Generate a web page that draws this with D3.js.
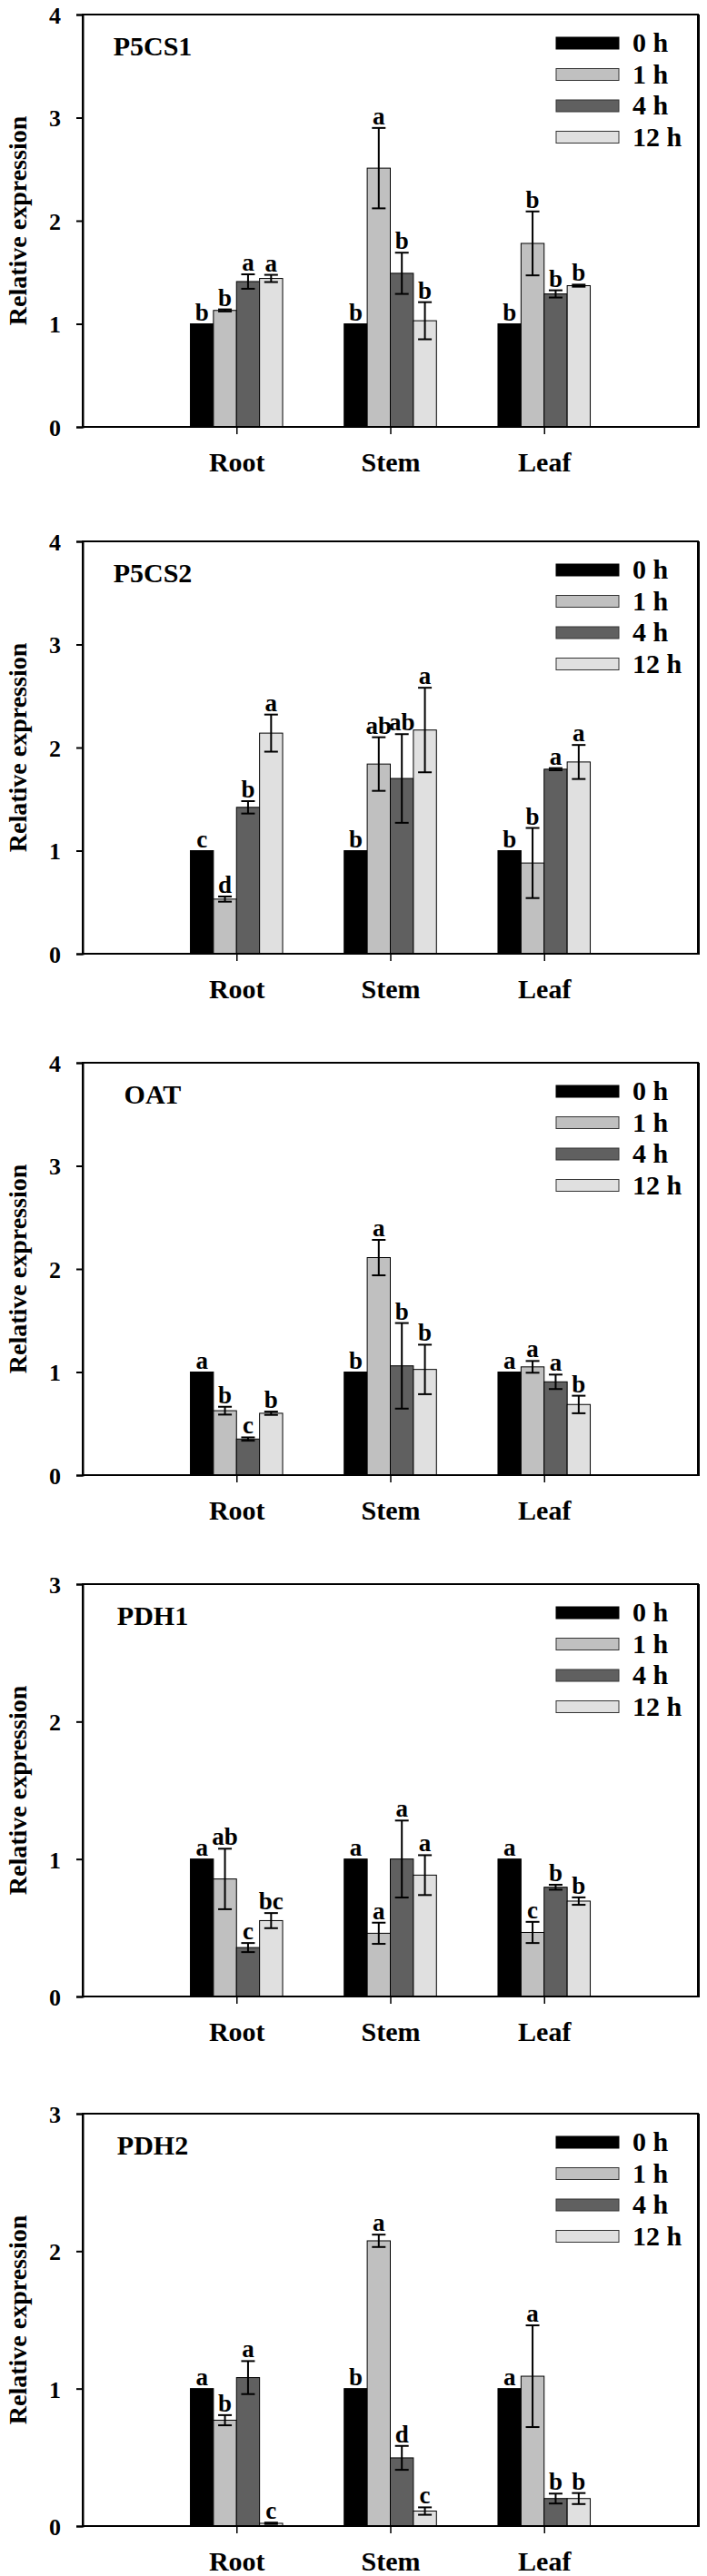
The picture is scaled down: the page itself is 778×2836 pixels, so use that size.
<!DOCTYPE html>
<html>
<head>
<meta charset="utf-8">
<script src="https://cdn.jsdelivr.net/npm/d3@7"></script>
<style>
  html, body { margin: 0; padding: 0; background: #fff; }
  svg { display: block; }
  text { font-family: "Liberation Serif", "Times New Roman", serif; font-weight: bold; fill: #000; }
</style>
</head>
<body>
<svg id="chart" width="778" height="2836"></svg>
<script>
// ---------- DATA ----------
const categories = ["Root", "Stem", "Leaf"];
const series = ["0 h", "1 h", "4 h", "12 h"];
const genes = ["P5CS1", "P5CS2", "OAT", "PDH1", "PDH2"];
const yMaxes = [4, 4, 4, 3, 3];

// means [category][series]
const p5cs1Mean = [[1, 1.13, 1.41, 1.44], [1, 2.51, 1.49, 1.03], [1, 1.78, 1.29, 1.37]];
const p5cs1Err  = [[0, 0.01, 0.07, 0.035], [0, 0.39, 0.20, 0.18], [0, 0.31, 0.035, 0.01]];
const p5cs1Sig  = [["b", "b", "a", "a"], ["b", "a", "b", "b"], ["b", "b", "b", "b"]];

const p5cs2Mean = [[1, 0.53, 1.42, 2.14], [1, 1.84, 1.70, 2.17], [1, 0.88, 1.79, 1.86]];
const p5cs2Err  = [[0, 0.025, 0.06, 0.18], [0, 0.26, 0.43, 0.41], [0, 0.34, 0.01, 0.165]];
const p5cs2Sig  = [["c", "d", "b", "a"], ["b", "ab", "ab", "a"], ["b", "b", "a", "a"]];

const oatMean = [[1, 0.625, 0.35, 0.60], [1, 2.11, 1.06, 1.025], [1, 1.05, 0.905, 0.685]];
const oatErr  = [[0, 0.038, 0.016, 0.016], [0, 0.172, 0.415, 0.24], [0, 0.057, 0.07, 0.085]];
const oatSig  = [["a", "b", "c", "b"], ["b", "a", "b", "b"], ["a", "a", "a", "b"]];

const pdh1Mean = [[1, 0.855, 0.356, 0.552], [1, 0.46, 1.0, 0.883], [1, 0.466, 0.795, 0.694]];
const pdh1Err  = [[0, 0.22, 0.033, 0.055], [0, 0.077, 0.28, 0.145], [0, 0.077, 0.018, 0.027]];
const pdh1Sig  = [["a", "ab", "c", "bc"], ["a", "a", "a", "a"], ["a", "c", "b", "b"]];

const pdh2Mean = [[1, 0.77, 1.08, 0.02], [1, 2.075, 0.496, 0.109], [1, 1.09, 0.20, 0.20]];
const pdh2Err  = [[0, 0.037, 0.12, 0.005], [0, 0.045, 0.087, 0.027], [0, 0.37, 0.036, 0.04]];
const pdh2Sig  = [["a", "b", "a", "c"], ["b", "a", "d", "c"], ["a", "a", "b", "b"]];

const yAxisTitle = "Relative expression";

// ---------- STYLE / LAYOUT ----------
const fills = ["#000000", "#c0c0c0", "#606060", "#e0e0e0"];
const panelTops = [16, 596, 1170, 1744, 2327];
const plotH = 454;
const plotL = 91, plotR = 768;

const panels = [
  { mean: p5cs1Mean, err: p5cs1Err, sig: p5cs1Sig },
  { mean: p5cs2Mean, err: p5cs2Err, sig: p5cs2Sig },
  { mean: oatMean,   err: oatErr,   sig: oatSig },
  { mean: pdh1Mean,  err: pdh1Err,  sig: pdh1Sig },
  { mean: pdh2Mean,  err: pdh2Err,  sig: pdh2Sig }
];

const svg = d3.select("#chart");

// x position scale: categories at 1,2,3 on a 0..4 axis
const x = d3.scaleLinear().domain([0, 4]).range([plotL, plotR]);
const barW = 0.15; // in x units

panels.forEach((p, gi) => {
  const top = panelTops[gi];
  const bottom = top + plotH;
  const yMax = yMaxes[gi];
  const y = d3.scaleLinear().domain([0, yMax]).range([bottom, top]);
  const g = svg.append("g");

  // bars
  categories.forEach((cat, ci) => {
    const cx = ci + 1;
    series.forEach((s, si) => {
      const x0 = x(cx + (si - 2) * barW);
      const x1 = x(cx + (si - 1) * barW);
      const v = p.mean[ci][si];
      g.append("rect")
        .attr("x", x0).attr("width", x1 - x0)
        .attr("y", y(v)).attr("height", y(0) - y(v))
        .attr("fill", fills[si])
        .attr("stroke", "#000").attr("stroke-width", 1);
    });
  });

  // error bars + letters
  categories.forEach((cat, ci) => {
    const cx = ci + 1;
    series.forEach((s, si) => {
      const e = p.err[ci][si];
      const v = p.mean[ci][si];
      const xm = x(cx + (si - 1.5) * barW);
      if (e > 0) {
        const yHi = y(v + e), yLo = y(v - e);
        g.append("line").attr("x1", xm).attr("x2", xm).attr("y1", yHi).attr("y2", yLo)
          .attr("stroke", "#000").attr("stroke-width", 2);
        [yHi, yLo].forEach(yy => {
          g.append("line").attr("x1", xm - 7.5).attr("x2", xm + 7.5).attr("y1", yy).attr("y2", yy)
            .attr("stroke", "#000").attr("stroke-width", 2);
        });
      }
      const yTop = y(v + e);
      g.append("text")
        .attr("x", xm).attr("y", yTop - 4)
        .attr("text-anchor", "middle")
        .style("font-size", "27px")
        .text(p.sig[ci][si]);
    });
  });

  // frame
  g.append("rect").attr("x", plotL).attr("y", top).attr("width", plotR - plotL).attr("height", plotH)
    .attr("fill", "none").attr("stroke", "#000").attr("stroke-width", 2);
  g.append("line").attr("x1", plotR + 1).attr("x2", plotR + 1).attr("y1", top).attr("y2", bottom + 1)
    .attr("stroke", "#000").attr("stroke-width", 2);

  // y axis
  const yAxis = d3.axisLeft(y).tickValues(d3.range(0, yMax + 1)).tickFormat(d3.format("d")).tickSize(7).tickPadding(17);
  const ya = g.append("g").attr("transform", `translate(${plotL},0)`).call(yAxis);
  ya.select(".domain").attr("stroke-width", 2);
  ya.selectAll(".tick line").attr("stroke-width", 2);
  ya.selectAll(".tick text").style("font-size", "26px").attr("dy", "0.36em");

  // x axis (category ticks)
  const xAxis = d3.axisBottom(x).tickValues([1, 2, 3]).tickFormat((d) => categories[d - 1]).tickSize(8).tickPadding(20);
  const xa = g.append("g").attr("transform", `translate(0,${bottom})`).call(xAxis);
  xa.select(".domain").remove();
  xa.selectAll(".tick line").attr("stroke-width", 1.5);
  xa.selectAll(".tick text").style("font-size", "30px");

  // y title
  g.append("text")
    .attr("transform", `translate(29,${(top + bottom) / 2}) rotate(-90)`)
    .attr("text-anchor", "middle")
    .style("font-size", "28px")
    .text(yAxisTitle);

  // gene label
  g.append("text")
    .attr("x", 168).attr("y", top + 45)
    .attr("text-anchor", "middle")
    .style("font-size", "30px")
    .text(genes[gi]);

  // legend
  series.forEach((s, si) => {
    const cy = top + 31.5 + si * 34.5;
    g.append("rect").attr("x", 612).attr("y", cy - 6.5).attr("width", 69).attr("height", 13)
      .attr("fill", fills[si]).attr("stroke", si === 0 ? "#000" : "#333").attr("stroke-width", 1);
    g.append("text").attr("x", 696).attr("y", cy + 9.5)
      .style("font-size", "30px")
      .text(s);
  });
});
</script>
</body>
</html>
